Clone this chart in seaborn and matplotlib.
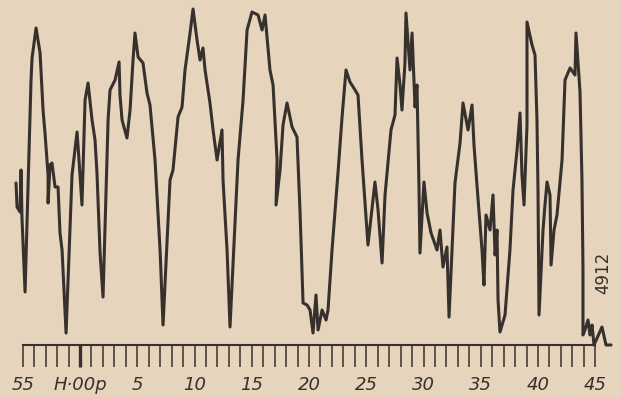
"""
Recorder trace on a minute scale (55 .. H·00p .. 45), redrawn with seaborn.
"""
import numpy as np
import matplotlib
matplotlib.use("Agg")
import matplotlib.pyplot as plt
from matplotlib.ticker import FixedLocator, FuncFormatter
import seaborn as sns

# ── Data ────────────────────────────────────────────────────────────────────
# time in minutes relative to H·00p, pen deflection in arbitrary units
MINUTES = [
    -5.59, -5.50, -5.24, -5.15, -5.07, -4.80, -4.28, -4.19, -3.84, -3.49,
    -3.23, -3.06, -2.79, -2.79, -2.62, -2.45, -2.18, -1.92, -1.75, -1.57,
    -1.22, -0.70, -0.44, -0.26, -0.09, 0.17, 0.44, 0.70, 1.05, 1.31,
    1.48, 1.75, 2.01, 2.45, 2.62, 3.06, 3.41, 3.49, 3.67, 4.10,
    4.37, 4.63, 4.80, 5.07, 5.50, 5.85, 6.11, 6.55, 6.99, 7.25,
    7.86, 8.12, 8.56, 8.91, 9.17, 9.61, 9.87, 10.22, 10.48, 10.74,
    10.92, 11.35, 11.62, 11.97, 12.40, 12.49, 12.84, 13.10, 13.80, 14.24,
    14.59, 15.02, 15.55, 15.90, 16.16, 16.59, 16.86, 17.21, 17.12, 17.47,
    17.73, 18.08, 18.52, 18.95, 19.21, 19.48, 19.83, 20.09, 20.35, 20.61,
    20.79, 21.14, 21.49, 21.66, 22.01, 22.53, 22.88, 23.23, 23.58, 24.02,
    24.28, 24.63, 25.15, 25.76, 26.03, 26.38, 26.64, 27.16, 27.51, 27.69,
    27.95, 28.12, 28.38, 28.47, 28.82, 29.00, 29.26, 29.43, 29.61, 29.69,
    30.04, 30.31, 30.66, 31.18, 31.44, 31.70, 32.05, 32.23, 32.75, 33.19,
    33.45, 33.89, 34.24, 34.41, 34.67, 35.11, 35.28, 35.46, 35.81, 36.07,
    36.25, 36.42, 36.51, 36.68, 37.12, 37.55, 37.82, 38.17, 38.43, 38.60,
    38.78, 39.04, 39.04, 39.04, 39.48, 39.74, 39.91, 40.00, 40.09, 40.44,
    40.61, 40.79, 41.05, 41.14, 41.40, 41.66, 42.10, 42.36, 42.80, 43.23,
    43.32, 43.67, 43.84, 43.93, 43.93, 44.10, 44.37, 44.54, 44.72, 44.89,
    45.59, 45.94, 46.38,
]
LEVEL = [
    162, 138, 133, 175, 127, 53, 265, 287, 317, 292,
    235, 212, 170, 142, 180, 182, 158, 158, 112, 95,
    12, 170, 195, 213, 185, 140, 245, 262, 225, 205,
    172, 92, 48, 225, 255, 265, 283, 250, 225, 207,
    235, 285, 312, 288, 282, 252, 240, 185, 95, 20,
    165, 175, 228, 238, 275, 312, 336, 305, 285, 297,
    275, 242, 215, 185, 215, 165, 95, 18, 185, 245,
    315, 333, 330, 315, 330, 275, 260, 185, 140, 175,
    220, 242, 218, 208, 135, 42, 40, 35, 12, 50,
    15, 35, 25, 35, 95, 172, 227, 275, 263, 255,
    250, 185, 100, 163, 135, 82, 150, 215, 230, 287,
    260, 235, 282, 332, 275, 312, 238, 260, 155, 92,
    163, 132, 112, 95, 115, 78, 98, 28, 162, 202,
    242, 215, 240, 200, 160, 95, 60, 130, 115, 150,
    90, 115, 45, 13, 30, 95, 155, 195, 232, 170,
    140, 220, 285, 323, 300, 290, 225, 155, 30, 115,
    140, 163, 150, 80, 115, 130, 185, 265, 277, 270,
    312, 253, 165, 75, 10, 15, 25, 10, 20, 0,
    18, 0, 0,
]
SCALE_MINUTES = list(range(-5, 46))
SCALE_LABELS  = {-5: "55", 0: "H\u00b700p", 5: "5", 10: "10", 15: "15", 20: "20",
                 25: "25", 30: "30", 35: "35", 40: "40", 45: "45"}
PLATE_NO = "4912"

# ── Style ───────────────────────────────────────────────────────────────────
PAPER = "#e6d4bc"
INK   = "#37312d"

sns.set_theme(style="white", rc={
    "figure.facecolor": PAPER,
    "axes.facecolor":   PAPER,
})

fig = plt.figure(figsize=(6.21, 3.97), dpi=100)
ax = fig.add_axes([0, 0, 1, 1])

sns.lineplot(x=MINUTES, y=LEVEL, sort=False, estimator=None,
             color=INK, linewidth=2.2, ax=ax)

ax.set_xlim(-6.99, 47.25)
ax.set_ylim(-52, 345)

# time scale drawn as the bottom spine at deflection 0
for side in ("top", "right", "left"):
    ax.spines[side].set_visible(False)
ax.spines["bottom"].set_position(("data", 0))
ax.spines["bottom"].set_bounds(-5, 45)
ax.spines["bottom"].set_color(INK)
ax.spines["bottom"].set_linewidth(1.5)

ax.xaxis.set_major_locator(FixedLocator(SCALE_MINUTES))
ax.xaxis.set_major_formatter(FuncFormatter(lambda v, _: SCALE_LABELS.get(int(round(v)), "")))
ax.tick_params(axis="x", bottom=True, direction="out", length=16, width=1.1,
               color=INK, pad=6, labelsize=13, labelcolor=INK)
for lab in ax.get_xticklabels():
    lab.set_fontstyle("italic")
ax.xaxis.get_major_ticks()[SCALE_MINUTES.index(0)].tick1line.set_markeredgewidth(2.4)
ax.set_yticks([])
ax.set_xlabel("")
ax.set_ylabel("")

ax.text(45.68, 72, PLATE_NO, rotation=90, ha="center", va="center",
        fontsize=12, color=INK)

fig.savefig("out.png", dpi=100, facecolor=PAPER)
